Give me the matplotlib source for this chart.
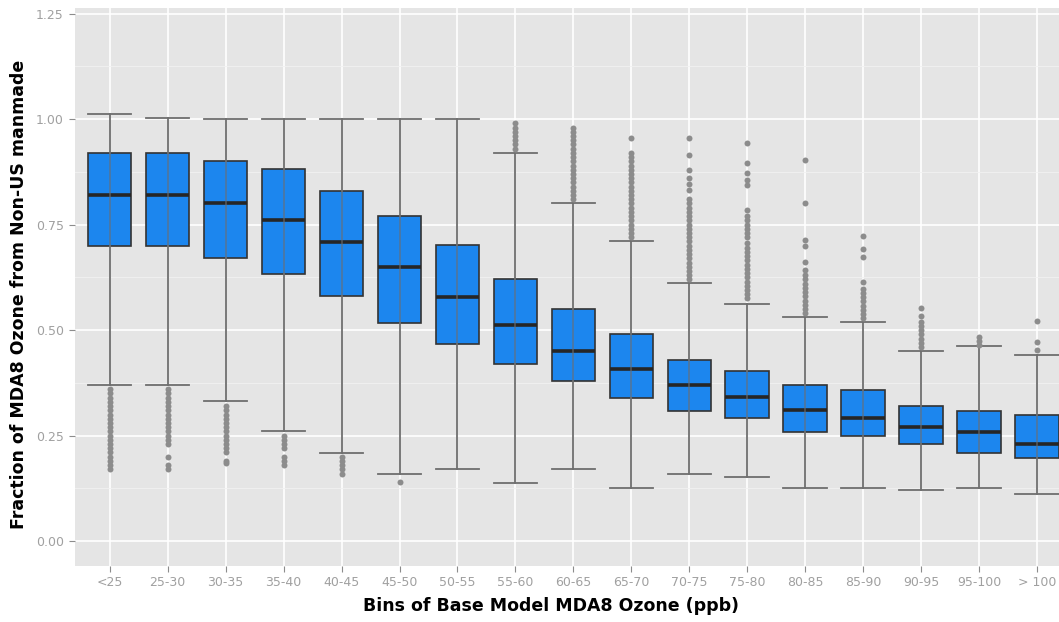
import matplotlib
matplotlib.use("Agg")
import matplotlib.pyplot as plt
from matplotlib.ticker import MultipleLocator

# Values
bins = ["<25", "25-30", "30-35", "35-40", "40-45", "45-50", "50-55", "55-60", "60-65",
        "65-70", "70-75", "75-80", "80-85", "85-90", "90-95", "95-100", "> 100"]
whis_lo = [0.37, 0.37, 0.332, 0.261, 0.209, 0.160, 0.170, 0.138, 0.170,
           0.127, 0.160, 0.151, 0.127, 0.127, 0.121, 0.127, 0.111]
q1 = [0.700, 0.700, 0.672, 0.633, 0.581, 0.518, 0.468, 0.419, 0.379,
      0.340, 0.309, 0.292, 0.259, 0.249, 0.230, 0.209, 0.198]
medians = [0.821, 0.821, 0.800, 0.761, 0.709, 0.650, 0.579, 0.512, 0.451,
           0.409, 0.370, 0.342, 0.310, 0.291, 0.271, 0.259, 0.230]
q3 = [0.919, 0.919, 0.900, 0.881, 0.830, 0.771, 0.701, 0.621, 0.550,
      0.490, 0.430, 0.403, 0.370, 0.359, 0.320, 0.309, 0.299]
whis_hi = [1.012, 1.002, 1.000, 1.000, 1.000, 1.000, 1.000, 0.920, 0.800,
           0.710, 0.611, 0.561, 0.530, 0.519, 0.451, 0.462, 0.441]

outliers = [
    [0.17, 0.18, 0.19, 0.20, 0.21, 0.22, 0.23, 0.24, 0.25, 0.26, 0.27, 0.28,
     0.29, 0.30, 0.31, 0.32, 0.33, 0.34, 0.35, 0.36],
    [0.17, 0.18, 0.20, 0.23, 0.24, 0.25, 0.26, 0.27, 0.28, 0.29, 0.30, 0.31,
     0.32, 0.33, 0.34, 0.35, 0.36],
    [0.185, 0.19, 0.21, 0.22, 0.23, 0.24, 0.25, 0.26, 0.27, 0.28, 0.29, 0.30,
     0.31, 0.32],
    [0.18, 0.19, 0.20, 0.22, 0.23, 0.24, 0.25],
    [0.16, 0.17, 0.18, 0.19, 0.20],
    [0.14],
    [],
    [0.93, 0.94, 0.95, 0.96, 0.97, 0.98, 0.99],
    [0.81, 0.82, 0.83, 0.84, 0.85, 0.86, 0.87, 0.88, 0.89, 0.90, 0.91, 0.92,
     0.93, 0.94, 0.95, 0.96, 0.97, 0.98],
    [0.72, 0.73, 0.74, 0.75, 0.76, 0.77, 0.78, 0.79, 0.80, 0.81, 0.82, 0.83,
     0.84, 0.85, 0.86, 0.87, 0.88, 0.89, 0.90, 0.91, 0.92, 0.955],
    [0.62, 0.63, 0.64, 0.65, 0.66, 0.67, 0.68, 0.69, 0.70, 0.71, 0.72, 0.73,
     0.74, 0.75, 0.76, 0.77, 0.78, 0.79, 0.80, 0.81, 0.832, 0.845, 0.86,
     0.879, 0.915, 0.954],
    [0.575, 0.585, 0.595, 0.605, 0.615, 0.625, 0.635, 0.645, 0.655, 0.665,
     0.675, 0.685, 0.695, 0.706, 0.72, 0.73, 0.74, 0.75, 0.76, 0.77, 0.784,
     0.843, 0.855, 0.873, 0.895, 0.944],
    [0.54, 0.55, 0.56, 0.57, 0.58, 0.59, 0.60, 0.61, 0.62, 0.63, 0.642,
     0.662, 0.70, 0.713, 0.80, 0.904],
    [0.528, 0.538, 0.548, 0.558, 0.568, 0.578, 0.588, 0.598, 0.614, 0.674,
     0.691, 0.723],
    [0.46, 0.47, 0.48, 0.49, 0.50, 0.51, 0.52, 0.533, 0.553],
    [0.464, 0.474, 0.484],
    [0.453, 0.471, 0.521],
]

stats = []
for i, name in enumerate(bins):
    stats.append(dict(label=name, whislo=whis_lo[i], q1=q1[i], med=medians[i],
                      q3=q3[i], whishi=whis_hi[i], fliers=outliers[i]))

fig = plt.figure(figsize=(10.59, 6.22), dpi=100)
ax = fig.add_axes([0.0708, 0.090, 0.9292, 0.897])
ax.set_facecolor("#E5E5E5")

positions = list(range(len(bins)))
ax.bxp(stats, positions=positions, widths=0.75, capwidths=0.75, patch_artist=True,
       boxprops=dict(facecolor="#1C86EE", edgecolor="#333333", linewidth=1.2),
       medianprops=dict(color="#262626", linewidth=2.6, solid_capstyle="butt"),
       whiskerprops=dict(color="#6E6E6E", linewidth=1.3),
       capprops=dict(color="#6E6E6E", linewidth=1.3),
       flierprops=dict(marker="o", markersize=4.3, markerfacecolor="#8C8C8C",
                       markeredgecolor="none"),
       zorder=3)
# errorbar line also runs through the box
ax.vlines(positions, q1, q3, color="#6E6E6E", linewidth=1.3, alpha=0.6, zorder=4)

ax.set_xlim(-0.6, 16.38)
ax.set_ylim(-0.059, 1.263)
ax.yaxis.set_minor_locator(MultipleLocator(0.125))
ax.set_yticks([0, 0.25, 0.5, 0.75, 1.0, 1.25])
ax.set_yticklabels(["0.00", "0.25", "0.50", "0.75", "1.00", "1.25"])
ax.set_xticks(positions)
ax.set_xticklabels(bins)

ax.grid(which="major", color="white", linewidth=1.2, zorder=0)
ax.grid(which="minor", axis="y", color="#F2F2F2", linewidth=0.6, zorder=0)
ax.set_axisbelow(True)
for s in ax.spines.values():
    s.set_visible(False)

ax.tick_params(axis="both", which="major", colors="#8C8C8C", labelsize=9,
               length=4, width=0.8, labelcolor="#A0A0A0")
ax.tick_params(axis="y", which="major", pad=4)
ax.tick_params(axis="x", which="minor", bottom=False)
ax.tick_params(axis="y", which="minor", left=False)

ax.set_xlabel("Bins of Base Model MDA8 Ozone (ppb)", fontsize=12.5, fontweight="bold")
ax.set_ylabel("Fraction of MDA8 Ozone from Non-US manmade", fontsize=12.5,
              fontweight="bold")
ax.xaxis.set_label_coords(0.484, -0.055)
ax.yaxis.set_label_coords(-0.048, 0.486)

fig.savefig("out.png", dpi=100)
